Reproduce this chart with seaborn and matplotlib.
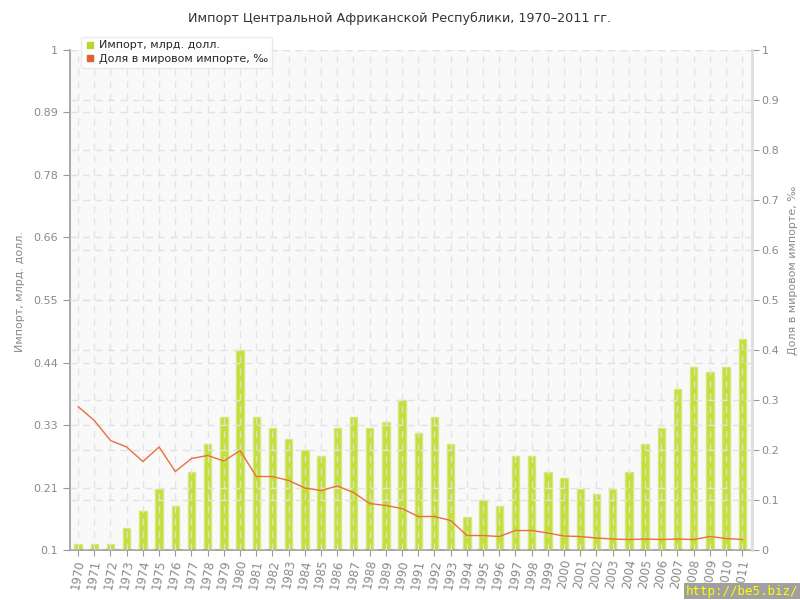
import numpy as np
import pandas as pd
import matplotlib
matplotlib.use("Agg")
import matplotlib.pyplot as plt
import seaborn as sns
from matplotlib.lines import Line2D

# Data
years = [str(y) for y in range(1970, 2012)]
imports = [0.11, 0.11, 0.11, 0.14, 0.17, 0.21, 0.18, 0.24, 0.29, 0.34,
           0.46, 0.34, 0.32, 0.30, 0.28, 0.27, 0.32, 0.34, 0.32, 0.33,
           0.37, 0.31, 0.34, 0.29, 0.16, 0.19, 0.18, 0.27, 0.27, 0.24,
           0.23, 0.21, 0.20, 0.21, 0.24, 0.29, 0.32, 0.39, 0.43, 0.42,
           0.43, 0.48]
share = [0.287, 0.259, 0.219, 0.206, 0.177, 0.206, 0.157, 0.183, 0.189, 0.178,
         0.199, 0.147, 0.147, 0.139, 0.124, 0.119, 0.128, 0.115, 0.093, 0.089,
         0.083, 0.067, 0.067, 0.059, 0.029, 0.029, 0.027, 0.039, 0.039, 0.034,
         0.028, 0.027, 0.024, 0.022, 0.021, 0.022, 0.021, 0.022, 0.021, 0.027,
         0.023, 0.021]
left_ticks = [0.1, 0.2125, 0.325, 0.4375, 0.55, 0.6625, 0.775, 0.8875, 1.0]
left_labels = ["0.1", "0.21", "0.33", "0.44", "0.55", "0.66", "0.78", "0.89", "1"]
right_ticks = [0, 0.1, 0.2, 0.3, 0.4, 0.5, 0.6, 0.7, 0.8, 0.9, 1.0]
right_labels = ["0", "0.1", "0.2", "0.3", "0.4", "0.5", "0.6", "0.7", "0.8", "0.9", "1"]

BAR_COLOR = "#c2df3a"
BAR_EDGE = "#d4e97a"
LINE_COLOR = "#e8703f"
TEXT_GRAY = "#8a8a8a"
GRID = "#e2e2e2"

df = pd.DataFrame({"year": years, "imports": imports, "share": share})
df["pos"] = np.arange(len(df))

sns.set_style("white")
plt.rcParams["font.family"] = ["DejaVu Sans"]

fig = plt.figure(figsize=(8, 6), dpi=100)
ax = fig.add_axes([0.0875, 0.0833, 0.8525, 0.8334])
ax.set_facecolor("#f9f9f9")

sns.barplot(data=df, x="year", y="imports", color=BAR_COLOR, width=0.45,
            saturation=1, edgecolor=BAR_EDGE, linewidth=1, ax=ax, zorder=2)

ax.set_ylim(0.1, 1.0)
ax.set_xlim(-0.5, 41.6)
ax.set_yticks(left_ticks)
ax.set_yticklabels(left_labels)
ax.set_xlabel("")
ax.set_ylabel("Импорт, млрд. долл.", color=TEXT_GRAY, fontsize=8)
ax.yaxis.set_label_coords(-0.066, 0.516)
ax.tick_params(axis="y", colors="#999999", labelcolor=TEXT_GRAY, labelsize=8,
               length=5, direction="out", left=True)
ax.tick_params(axis="x", colors="#999999", labelcolor=TEXT_GRAY, labelsize=8.5,
               length=4, direction="out", bottom=True, pad=2)
for lbl in ax.get_xticklabels():
    lbl.set_rotation(80)
    lbl.set_ha("center")
    lbl.set_va("top")

# dashed grid: horizontal for both axes, vertical at each year
for y in left_ticks:
    ax.axhline(y, color=GRID, lw=1, ls=(0, (5, 4)), zorder=3)
for y in right_ticks:
    ax.axhline(0.1 + y * 0.9, color=GRID, lw=1, ls=(0, (5, 4)), zorder=3)
for x in df["pos"]:
    ax.axvline(x, color=GRID, lw=1, ls=(0, (5, 4)), zorder=3, alpha=0.9)

for side in ["top", "right"]:
    ax.spines[side].set_visible(False)
ax.spines["left"].set_color("#999999")
ax.spines["bottom"].set_color("#999999")
ax.spines["left"].set_linewidth(1.2)
ax.spines["bottom"].set_linewidth(1.2)

ax2 = ax.twinx()
sns.lineplot(data=df, x="pos", y="share", color=LINE_COLOR, lw=1, ax=ax2, zorder=4)
ax2.set_ylim(0, 1.0)
ax2.set_xlim(-0.5, 41.6)
ax2.set_yticks(right_ticks)
ax2.set_yticklabels(right_labels)
ax2.set_xlabel("")
ax2.set_ylabel("Доля в мировом импорте, ‰", color=TEXT_GRAY, fontsize=8)
ax2.yaxis.set_label_coords(1.053, 0.56)
ax2.tick_params(axis="y", colors="#999999", labelcolor=TEXT_GRAY, labelsize=8,
                length=5, direction="out", right=True, pad=2)
for side in ["top", "left", "bottom"]:
    ax2.spines[side].set_visible(False)
ax2.spines["right"].set_color("#dddddd")
ax2.spines["right"].set_linewidth(2)

handles = [
    Line2D([], [], marker="s", ls="", color="#b5d730", markersize=5),
    Line2D([], [], marker="s", ls="", color="#e0612c", markersize=5),
]
leg = ax2.legend(handles, ["Импорт, млрд. долл.", "Доля в мировом импорте, ‰"],
                 loc="upper left", bbox_to_anchor=(0.008, 1.038), fontsize=8,
                 frameon=True, fancybox=True, handletextpad=0.3, borderpad=0.35,
                 labelspacing=0.35, handlelength=1)
leg.get_frame().set_edgecolor("#e6e6e6")
leg.get_frame().set_facecolor("white")
leg.set_zorder(10)

fig.text(0.5, 0.97, "Импорт Центральной Африканской Республики, 1970–2011 гг.",
         ha="center", va="center", fontsize=9.2, color="#333333")
fig.text(0.998, 0.004, "http://be5.biz/", ha="right", va="bottom", fontsize=9,
         color="#ffff00", family="DejaVu Sans Mono",
         bbox=dict(boxstyle="square,pad=0.15", facecolor="#a0a0a0", edgecolor="none"))

fig.savefig("out.png", dpi=100)
